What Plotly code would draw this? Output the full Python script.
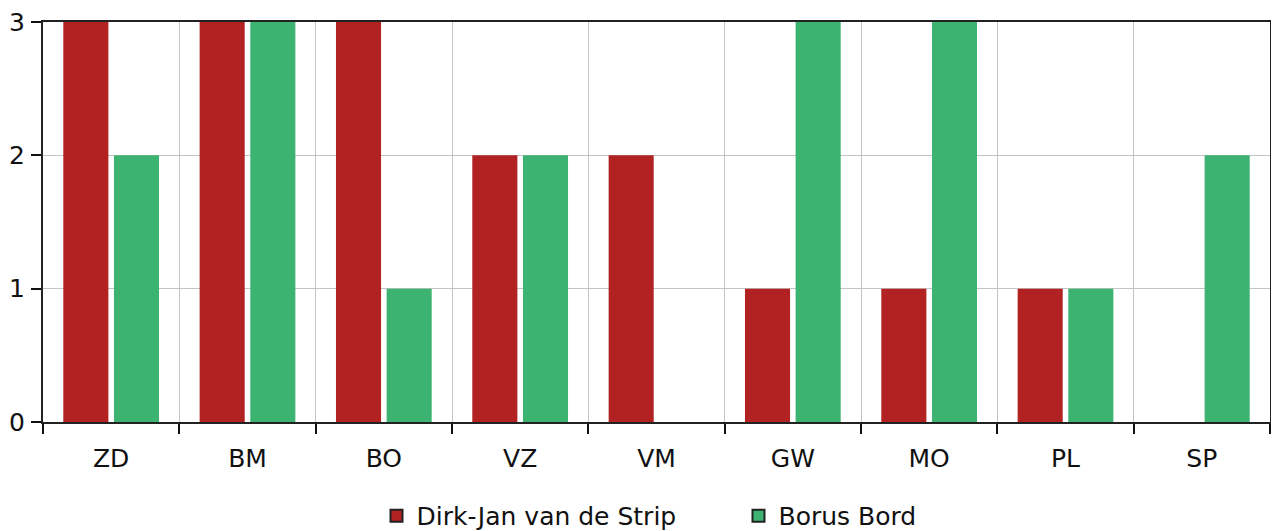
import plotly.graph_objects as go

categories = ["ZD", "BM", "BO", "VZ", "VM", "GW", "MO", "PL", "SP"]
dirk_jan = [3, 3, 3, 2, 2, 1, 1, 1, 0]
borus = [2, 3, 1, 2, 0, 3, 3, 1, 2]
series_names = ["Dirk-Jan van de Strip", "Borus Bord"]
colors = ["#B22222", "#3CB371"]
y_ticks = [0, 1, 2, 3]

fig = go.Figure()
for name, vals, col in zip(series_names, [dirk_jan, borus], colors):
    fig.add_trace(go.Bar(x=categories, y=vals, name=name, marker=dict(color=col, line=dict(width=0)),
                         showlegend=False))
for name, col in zip(series_names, colors):
    fig.add_trace(go.Scatter(x=[None], y=[None], mode="markers", name=name,
                             marker=dict(symbol="square", size=20, color=col,
                                         line=dict(color="#222222", width=1.5))))

font = dict(family="DejaVu Sans, Verdana, sans-serif", size=25, color="#111111")
# the page body has an 8px margin, so the figure is sized to fill the rest of the window
fig.update_layout(
    width=1271, height=523,
    margin=dict(l=35, r=9, t=14, b=109, autoexpand=False),
    paper_bgcolor="white", plot_bgcolor="white",
    barmode="group", bargap=0.257, bargroupgap=0.11,
    font=font,
    showlegend=True,
    legend=dict(orientation="h", x=0.2718, xanchor="left", yref="container", y=0.0287, yanchor="middle",
                entrywidth=317, entrywidthmode="pixels", font=font, itemsizing="constant"),
    xaxis=dict(type="category", tickson="boundaries", showgrid=True, gridcolor="#C4C4C4", gridwidth=1,
               ticks="outside", ticklen=10, tickcolor="#111111", tickwidth=2, automargin=False,
               ticklabelstandoff=13, ticklabeloverflow="allow",
               showline=True, linecolor="#222222", linewidth=2, mirror=True),
    yaxis=dict(range=[0, 3], tickvals=y_ticks, showgrid=True, gridcolor="#C4C4C4", gridwidth=1,
               ticks="outside", ticklen=10, tickcolor="#111111", tickwidth=2, zeroline=False,
               automargin=False, ticklabelstandoff=1, ticklabeloverflow="allow",
               showline=True, linecolor="#222222", linewidth=2, mirror=True),
)
fig.write_html("out.html")
